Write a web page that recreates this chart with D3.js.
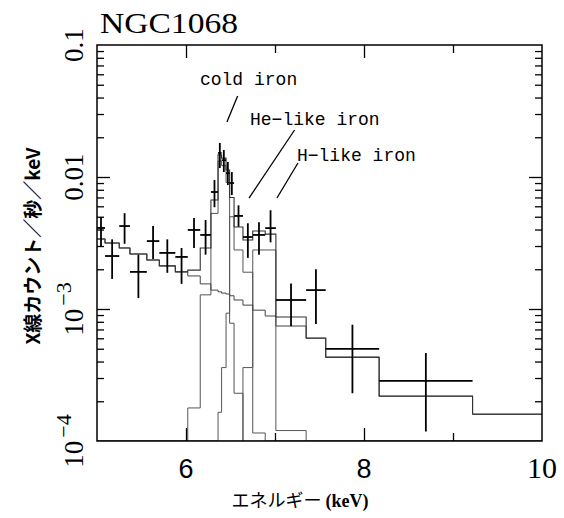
<!DOCTYPE html>
<html><head><meta charset="utf-8">
<script src="https://cdn.jsdelivr.net/npm/d3@7"></script>
<style>body{margin:0;background:#fff}svg{display:block}</style>
</head><body><svg id="c" width="564" height="518"></svg>
<script>
// ---- data (counts/s/keV vs keV) ----
const binEdges = [5.00,5.09,5.25,5.37,5.56,5.70,5.88,6.02,6.16,6.28,6.36,6.40,6.45,6.49,6.54,6.64,6.75,6.89,7.01,7.35,7.57,8.17,9.22,10.0];
const dataRate = [4.11e-3,2.52e-3,4.25e-3,1.91e-3,3.27e-3,2.66e-3,2.48e-3,3.97e-3,3.64e-3,7.7e-3,1.52e-2,1.34e-2,1.07e-2,9.0e-3,5.07e-3,3.51e-3,3.64e-3,4.1e-3,1.17e-3,1.39e-3,4.98e-4,2.85e-4,null];
const dataHi   = [4.98e-3,3.37e-3,5.32e-3,2.58e-3,4.25e-3,3.37e-3,2.9e-3,4.9e-3,4.72e-3,9.5e-3,1.81e-2,1.6e-2,1.3e-2,1.09e-2,6.1e-3,4.46e-3,4.55e-3,5.6e-3,1.56e-3,2.0e-3,7.6e-4,4.64e-4,null];
const dataLo   = [2.95e-3,1.69e-3,3.12e-3,1.21e-3,2.39e-3,1.88e-3,1.55e-3,2.9e-3,2.58e-3,5.9e-3,1.17e-2,1.09e-2,8.7e-3,7.3e-3,4.2e-3,2.44e-3,2.58e-3,3.2e-3,7.4e-4,7.7e-4,2.3e-4,1.18e-4,null];
const modelTotal = [3.39e-3,3.16e-3,2.9e-3,2.61e-3,2.35e-3,2.12e-3,1.91e-3,1.97e-3,2.9e-3,6.7e-3,1.47e-2,1.39e-2,1.13e-2,7.0e-3,4.18e-3,3.33e-3,3.9e-3,3.69e-3,8.69e-4,6.03e-4,4.32e-4,2.19e-4,1.6e-4];
const continuum  = [3.39e-3,3.16e-3,2.9e-3,2.61e-3,2.35e-3,2.12e-3,1.91e-3,1.78e-3,1.55e-3,1.39e-3,1.35e-3,1.32e-3,1.3e-3,1.26e-3,1.17e-3,1.07e-3,9.8e-4,8.85e-4,7.43e-4,6.0e-4,4.3e-4,2.18e-4,1.59e-4];
const coldIron   = [0,0,0,0,0,0,0,1.78e-4,1.28e-3,5.3e-3,1.32e-2,1.22e-2,9.1e-3,7.8e-4,2.3e-4,0,0,0,0,0,0,0,0];
const heLikeIron = [0,0,0,0,0,0,0,0,0,0,1.65e-4,3.6e-4,9.3e-4,5.0e-3,2.8e-3,1.9e-3,1.15e-4,0,0,0,0,0,0];
const hLikeIron  = [0,0,0,0,0,0,0,0,0,0,0,0,0,0,0,3.6e-4,2.8e-3,2.8e-3,1.2e-4,0,0,0,0];

const xMajorTicks = [6,8,10];
const xMinorTicks = [5,7,9];
const xTickLabels = ["6","8","10"];
const yTickValues = [1e-4,1e-3,0.01,0.1];
const yTickBase = ["10","10","0.01","0.1"];
const yTickExp  = ["\u22124","\u22123","",""];

const annotations = [
  {text:"cold iron",         x:6.157, y:0.0498, lx1:6.58, ly1:0.041,  lx2:6.46,  ly2:0.0261},
  {text:"He\u2212like iron", x:6.719, y:0.0248, lx1:7.22, ly1:0.0227, lx2:6.708, ly2:0.00693},
  {text:"H\u2212like iron",  x:7.247, y:0.0132, lx1:7.258, ly1:0.01277, lx2:7.022, ly2:0.00693}
];

// ---- chart ----
const L=97, R=542, T=45, B=441;
const svg = d3.select("#c");
const x = d3.scaleLinear().domain([5,10]).range([L,R]);
const y = d3.scaleLog().domain([1e-4,0.1]).range([B,T]);
const yc = v => y(Math.max(v, 1e-4));

function stepPts(vals){
  const pts = vals.map((v,i)=>[binEdges[i], v]);
  pts.push([binEdges[binEdges.length-1], vals[vals.length-1]]);
  return pts;
}
const stepLine = d3.line().x(d=>x(d[0])).y(d=>yc(d[1])).curve(d3.curveStepAfter);

const g = svg.append("g");
g.append("defs").append("clipPath").attr("id","clip").append("rect")
  .attr("x",L).attr("y",T).attr("width",R-L).attr("height",B-T);
const plot = g.append("g").attr("clip-path","url(#clip)");

[coldIron, heLikeIron, hLikeIron].forEach(s=>{
  plot.append("path").attr("d", stepLine(stepPts(s)))
    .attr("fill","none").attr("stroke","#555").attr("stroke-width",1);
});
plot.append("path").attr("d", stepLine(stepPts(continuum)))
  .attr("fill","none").attr("stroke","#444").attr("stroke-width",1);
plot.append("path").attr("d", stepLine(stepPts(modelTotal)))
  .attr("fill","none").attr("stroke","#333").attr("stroke-width",1.1);

// data crosses
const pts = dataRate.map((v,i)=>({v, lo:dataLo[i], hi:dataHi[i], x0:binEdges[i], x1:binEdges[i+1]})).filter(d=>d.v!=null);
const cross = plot.append("g").attr("stroke","#000").attr("stroke-width",1.8);
pts.forEach(d=>{
  const xm = (d.x0+d.x1)/2;
  cross.append("line").attr("x1",x(d.x0)).attr("x2",x(d.x1)).attr("y1",y(d.v)).attr("y2",y(d.v));
  cross.append("line").attr("x1",x(xm)).attr("x2",x(xm)).attr("y1",y(d.hi)).attr("y2",y(d.lo));
});

// frame
g.append("rect").attr("x",L).attr("y",T).attr("width",R-L).attr("height",B-T)
  .attr("fill","none").attr("stroke","#000").attr("stroke-width",1.5);

// ticks via d3 axes (inward)
const yMinor = [];
[1e-4,1e-3,1e-2].forEach(d=>{for(let k=2;k<=9;k++) yMinor.push(d*k);});
function ax(a, tr){ const s=g.append("g").attr("transform",tr).call(a); s.select(".domain").remove(); s.selectAll("text").remove(); s.selectAll("line").attr("stroke","#000").attr("stroke-width",1.3); }
ax(d3.axisLeft(y).tickValues([1e-3,1e-2]).tickSize(-13), `translate(${L},0)`);
ax(d3.axisLeft(y).tickValues(yMinor).tickSize(-7), `translate(${L},0)`);
ax(d3.axisRight(y).tickValues([1e-3,1e-2]).tickSize(-13), `translate(${R},0)`);
ax(d3.axisRight(y).tickValues(yMinor).tickSize(-7), `translate(${R},0)`);
ax(d3.axisBottom(x).tickValues(xMajorTicks.filter(v=>v<10)).tickSize(-13), `translate(0,${B})`);
ax(d3.axisBottom(x).tickValues(xMinorTicks.filter(v=>v>5)).tickSize(-8), `translate(0,${B})`);
ax(d3.axisTop(x).tickValues(xMajorTicks.filter(v=>v<10)).tickSize(-13), `translate(0,${T})`);
ax(d3.axisTop(x).tickValues(xMinorTicks.filter(v=>v>5)).tickSize(-8), `translate(0,${T})`);

// x tick labels
xMajorTicks.forEach((v,i)=>{
  g.append("text").attr("x",x(v)).attr("y",478).attr("text-anchor","middle")
    .attr("font-family", v===10 ? "Liberation Serif" : "Liberation Sans")
    .attr("font-size", v===10 ? 30 : 27).text(xTickLabels[i]);
});
// y tick labels (rotated)
yTickValues.forEach((v,i)=>{
  const t = g.append("text").attr("transform",`translate(83,${y(v)}) rotate(-90)`)
    .attr("text-anchor","middle").attr("font-family","Liberation Serif").attr("font-size",27);
  t.append("tspan").text(yTickBase[i]);
  if(yTickExp[i]) t.append("tspan").attr("dx",3).attr("dy",-12).attr("font-size",22).text(yTickExp[i]);
});

// title
g.append("text").attr("x",100).attr("y",33).attr("font-family","Liberation Serif")
  .attr("font-size",30).attr("textLength",138).attr("lengthAdjust","spacingAndGlyphs").text("NGC1068");

// axis titles
g.append("text").attr("x",300).attr("y",507).attr("text-anchor","middle")
  .attr("font-family","Noto Sans CJK JP").attr("font-size",18)
  .html('エネルギー <tspan font-family="Liberation Serif" font-weight="bold">(keV)</tspan>');
g.append("text").attr("transform","translate(40,246) rotate(-90)").attr("text-anchor","middle")
  .attr("font-family","Noto Sans CJK JP").attr("font-weight","bold").attr("font-size",19)
  .text("X線カウント／秒／keV");

// annotations
annotations.forEach(a=>{
  g.append("text").attr("x",x(a.x)).attr("y",y(a.y)).attr("font-family","Liberation Mono")
    .attr("font-size",18).text(a.text);
  g.append("line").attr("x1",x(a.lx1)).attr("y1",y(a.ly1)).attr("x2",x(a.lx2)).attr("y2",y(a.ly2))
    .attr("stroke","#000").attr("stroke-width",1.3);
});
</script></body></html>
